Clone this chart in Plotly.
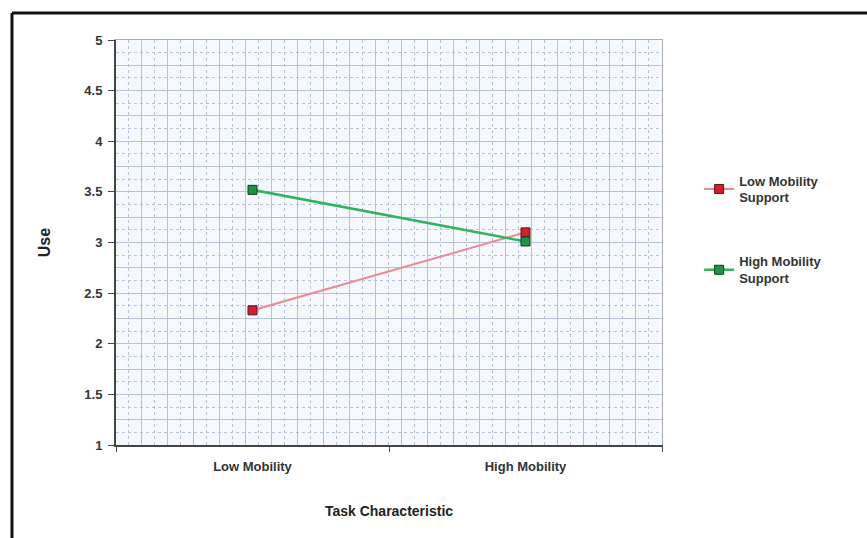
import plotly.graph_objects as go

# Interaction plot: use by task characteristic and mobility support
task_levels = ["Low Mobility", "High Mobility"]
low_support_use = [2.33, 3.10]
high_support_use = [3.52, 3.01]
series_names = ["Low Mobility<br>Support", "High Mobility<br>Support"]
y_ticks = [1, 1.5, 2, 2.5, 3, 3.5, 4, 4.5, 5]

FONT = "Liberation Sans, Arial, sans-serif"
GRID = "#b8c2d6"

fig = go.Figure()

# invisible trace that brings the grid axes into the layout (drawn first)
fig.add_trace(go.Scatter(x=[None], y=[None], xaxis="x2", yaxis="y2",
                         showlegend=False, hoverinfo="skip"))

fig.add_trace(go.Scatter(
    x=task_levels, y=low_support_use, name=series_names[0],
    mode="lines+markers",
    line=dict(color="#ec8a93", width=2),
    marker=dict(symbol="square", size=9, color="#d4202e",
                line=dict(color="#5a1015", width=1)),
    legendgroup="a",
))
fig.add_trace(go.Scatter(
    x=task_levels, y=high_support_use, name=series_names[1],
    mode="lines+markers",
    line=dict(color="#2fb35c", width=2.5),
    marker=dict(symbol="square", size=9, color="#1f9447",
                line=dict(color="#0c3d1c", width=1)),
    legendgroup="b",
))

fig.update_layout(
    width=867, height=538,
    margin=dict(l=116, r=205, t=40, b=93),
    paper_bgcolor="white",
    plot_bgcolor="#f5f8fd",
    font=dict(family=FONT, size=12, color="#222"),
    showlegend=True,
    legend=dict(
        x=1.068, y=0.69, xanchor="left", yanchor="top",
        font=dict(family=FONT, size=13, color="#333", weight="bold"),
        tracegroupgap=44, itemwidth=30,
        bgcolor="rgba(0,0,0,0)",
    ),
    # category axis with ticks on the category boundaries
    xaxis=dict(
        type="category", categoryorder="array", categoryarray=task_levels,
        range=[-0.5, 1.5], tickson="boundaries",
        ticks="outside", ticklen=5, tickcolor="#444",
        ticklabelstandoff=8,
        showgrid=False, zeroline=False,
        showline=True, linecolor="#444", linewidth=2,
        tickfont=dict(family=FONT, size=13, color="#333", weight="bold"),
        title=dict(text="Task Characteristic", standoff=34,
                   font=dict(family=FONT, size=14, color="#222", weight="bold")),
        layer="above traces",
    ),
    yaxis=dict(
        range=[1, 5], tickvals=y_ticks, ticktext=[f"{v:g}" for v in y_ticks],
        ticks="outside", ticklen=6, tickcolor="#444",
        ticklabelstandoff=3,
        showgrid=False, zeroline=False,
        showline=True, linecolor="#444", linewidth=2,
        tickfont=dict(family=FONT, size=13, color="#333", weight="bold"),
        title=dict(text="Use", standoff=30,
                   font=dict(family=FONT, size=16, color="#222", weight="bold")),
    ),
    # graph-paper grid on overlaid axes
    xaxis2=dict(
        overlaying="x", range=[-0.5, 1.5], dtick=0.0952, tick0=-0.5,
        showgrid=True, gridcolor=GRID, gridwidth=1,
        showticklabels=False, ticks="", zeroline=False,
        minor=dict(dtick=0.0476, tick0=-0.5, showgrid=True,
                   gridcolor=GRID, griddash="dot", gridwidth=1),
        side="top", showline=True, linecolor="#a9a9a9", linewidth=1,
    ),
    yaxis2=dict(
        overlaying="y", range=[1, 5], dtick=0.25, tick0=1,
        showgrid=True, gridcolor=GRID, gridwidth=1,
        showticklabels=False, ticks="", zeroline=False,
        minor=dict(dtick=0.125, tick0=1, showgrid=True,
                   gridcolor=GRID, griddash="dot", gridwidth=1),
        side="right", showline=True, linecolor="#a9a9a9", linewidth=1,
    ),
)

# outer frame along the top and left of the figure
fig.add_shape(type="line", xref="paper", yref="paper",
              x0=-0.1905, x1=1.4, y0=1.0667, y1=1.0667,
              line=dict(color="#111", width=3))
fig.add_shape(type="line", xref="paper", yref="paper",
              x0=-0.1905, x1=-0.1905, y0=1.0667, y1=-0.25,
              line=dict(color="#111", width=3))

fig.write_html("out.html")
